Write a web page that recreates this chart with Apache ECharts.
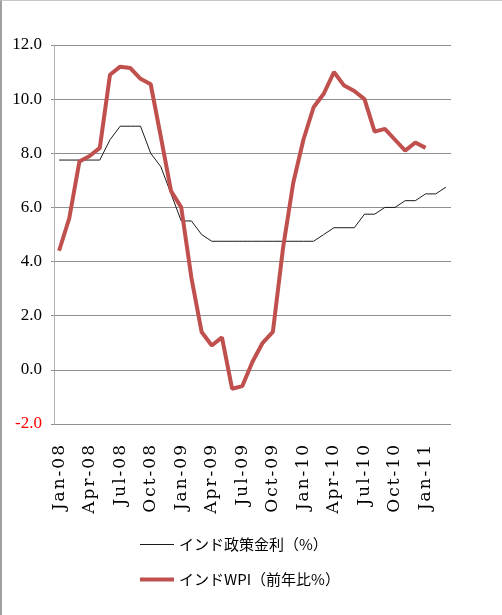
<!DOCTYPE html>
<html>
<head>
<meta charset="utf-8">
<script src="https://cdn.jsdelivr.net/npm/echarts@6/dist/echarts.min.js"></script>
<style>
  html, body { margin: 0; padding: 0; background: #fff; }
  #chart { position: absolute; left: 0; top: 0; width: 502px; height: 615px; }
  #frame { position: absolute; left: 0; top: 0; width: 502px; height: 615px; box-sizing: border-box;
           border-left: 2px solid #a0a0a0; border-top: 1px solid #c8c8c8; pointer-events: none; }
</style>
</head>
<body>
<div id="chart"></div>
<div id="frame"></div>
<script>
// 月 (横軸カテゴリ)
const months = [
  'Jan-08','Feb-08','Mar-08','Apr-08','May-08','Jun-08','Jul-08','Aug-08','Sep-08','Oct-08','Nov-08','Dec-08',
  'Jan-09','Feb-09','Mar-09','Apr-09','May-09','Jun-09','Jul-09','Aug-09','Sep-09','Oct-09','Nov-09','Dec-09',
  'Jan-10','Feb-10','Mar-10','Apr-10','May-10','Jun-10','Jul-10','Aug-10','Sep-10','Oct-10','Nov-10','Dec-10',
  'Jan-11','Feb-11','Mar-11'
];

// インド政策金利（%）
const policyRate = [
  7.75, 7.75, 7.75, 7.75, 7.75, 8.5, 9.0, 9.0, 9.0, 8.0, 7.5, 6.5,
  5.5, 5.5, 5.0, 4.75, 4.75, 4.75, 4.75, 4.75, 4.75, 4.75, 4.75, 4.75,
  4.75, 4.75, 5.0, 5.25, 5.25, 5.25, 5.75, 5.75, 6.0, 6.0, 6.25, 6.25,
  6.5, 6.5, 6.75
];

// インドWPI（前年比%）
const wpi = [
  4.4, 5.6, 7.7, 7.9, 8.2, 10.9, 11.2, 11.15, 10.75, 10.55, 8.6, 6.6,
  6.0, 3.4, 1.4, 0.9, 1.2, -0.7, -0.6, 0.3, 1.0, 1.4, 4.5, 6.9,
  8.5, 9.7, 10.2, 11.0, 10.5, 10.3, 10.0, 8.8, 8.9, 8.5, 8.1, 8.4,
  8.2, null, null
];

const seriesNames = ['インド政策金利（%）', 'インドWPI（前年比%）'];
const seriesColors = ['#1a1a1a', '#c0504d'];
const lineWidths = [1, 4];

const serif = '"Liberation Serif", "DejaVu Serif", serif';
const gridGray = '#8f8f8f';
const legendFont = {
  fontFamily: '"Noto Sans CJK JP", sans-serif',
  fontSize: 15,
  color: '#000'
};

let chart = echarts.init(document.getElementById('chart'));

// 凡例は線の太さが違うので2つに分ける
const legends = seriesNames.map((name, i) => ({
  orient: 'vertical',
  left: 140,
  top: [537, 572][i],
  padding: 0,
  icon: 'rect',
  itemWidth: 34,
  itemHeight: lineWidths[i],
  itemGap: 0,
  data: [name],
  textStyle: legendFont
}));

var option = {
  animation: false,
  grid: {
    left: 54,
    right: 51,
    top: 45,
    bottom: 191
  },
  legend: legends,
  xAxis: {
    type: 'category',
    data: months,
    boundaryGap: true,
    axisLine: { lineStyle: { color: gridGray, width: 1 } },
    axisTick: {
      interval: 2,
      inside: true,
      length: 7,
      lineStyle: { color: gridGray }
    },
    axisLabel: {
      interval: 2,
      rotate: 90,
      margin: 21,
      fontFamily: '"DejaVu Serif", serif',
      fontSize: 17,
      color: '#000',
      // 文字間を少し広げる
      formatter: v => v.split('').join('{s|}'),
      rich: {
        s: { width: 2, fontSize: 17 }
      }
    },
    splitLine: { show: false }
  },
  yAxis: {
    type: 'value',
    min: -2,
    max: 12,
    interval: 2,
    axisLine: { show: true, lineStyle: { color: '#b0b0b0' } },
    axisTick: { show: true, length: 3, lineStyle: { color: gridGray } },
    axisLabel: {
      margin: 12,
      fontFamily: serif,
      fontSize: 17,
      formatter: v => v.toFixed(1),
      color: v => (v < 0 ? '#ff0000' : '#000')
    },
    splitLine: { lineStyle: { color: gridGray, width: 1 } }
  },
  series: [
    {
      name: seriesNames[0],
      type: 'line',
      data: policyRate,
      symbol: 'none',
      lineStyle: { color: seriesColors[0], width: lineWidths[0] },
      itemStyle: { color: seriesColors[0] }
    },
    {
      name: seriesNames[1],
      type: 'line',
      data: wpi,
      symbol: 'none',
      lineStyle: { color: seriesColors[1], width: lineWidths[1] },
      itemStyle: { color: seriesColors[1] }
    }
  ]
};

chart.setOption(option);
</script>
</body>
</html>
